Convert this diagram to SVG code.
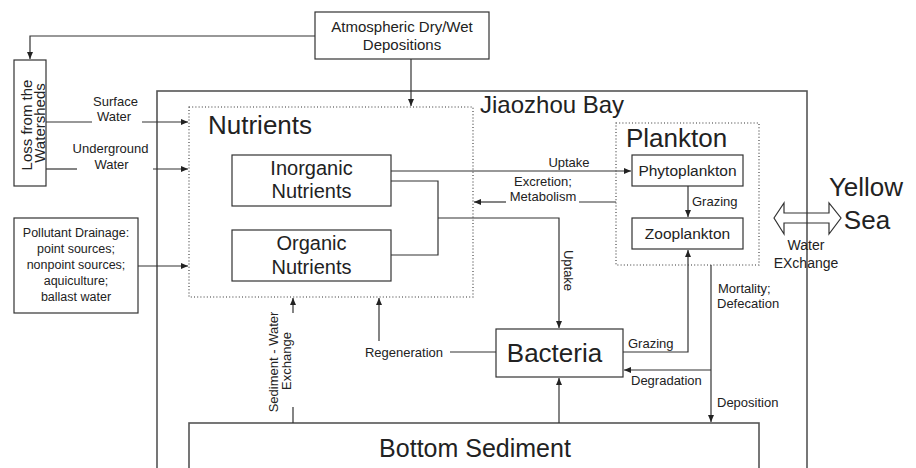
<svg xmlns="http://www.w3.org/2000/svg" width="916" height="468" viewBox="0 0 916 468">
<style>
text{font-family:"Liberation Sans",Arial,sans-serif;fill:#222}
.box{fill:#fff;stroke:#333;stroke-width:1.2}
.big{fill:none;stroke:#555;stroke-width:1.6}
.dot{fill:none;stroke:#333;stroke-width:1.1;stroke-dasharray:1 2.2}
.ln{fill:none;stroke:#333;stroke-width:1.2}
.arr{marker-end:url(#ah)}
.lbl{font-size:13px}
</style>
<defs>
<marker id="ah" markerUnits="userSpaceOnUse" markerWidth="8" markerHeight="7" refX="7" refY="3" orient="auto">
<path d="M0,0 L7,3 L0,6 z" fill="#222"/>
</marker>
</defs>
<rect width="916" height="468" fill="#fff"/>

<g id="jiaozhou-bay">
<rect class="big" x="157" y="91" width="650" height="390"/>
<text x="480" y="113" font-size="24">Jiaozhou Bay</text>
</g>

<g id="atmospheric">
<rect class="box" x="315" y="12" width="174" height="47"/>
<text x="402" y="32" font-size="15" text-anchor="middle">Atmospheric Dry/Wet</text>
<text x="402" y="50" font-size="15" text-anchor="middle">Depositions</text>
</g>

<g id="loss-watersheds">
<rect class="box" x="14" y="60" width="32" height="126"/>
<text transform="translate(31.5,125) rotate(-90)" font-size="15" text-anchor="middle">Loss from the</text>
<text transform="translate(44.5,123) rotate(-90)" font-size="15" text-anchor="middle">Watersheds</text>
</g>

<g id="pollutant">
<rect class="box" x="14" y="218" width="124" height="95"/>
<text x="76" y="237" font-size="12.5" text-anchor="middle">Pollutant Drainage:</text>
<text x="76" y="253" font-size="12.5" text-anchor="middle">point sources;</text>
<text x="76" y="269" font-size="12.5" text-anchor="middle">nonpoint sources;</text>
<text x="76" y="285" font-size="12.5" text-anchor="middle">aquiculture;</text>
<text x="76" y="301" font-size="12.5" text-anchor="middle">ballast water</text>
</g>

<g id="nutrients">
<rect class="dot" x="189" y="107" width="284" height="190"/>
<text x="208" y="134" font-size="26">Nutrients</text>
</g>

<g id="inorganic">
<rect class="box" x="232" y="155" width="159" height="51"/>
<text x="311.5" y="174.5" font-size="20" text-anchor="middle">Inorganic</text>
<text x="311.5" y="198" font-size="20" text-anchor="middle">Nutrients</text>
</g>

<g id="organic">
<rect class="box" x="232" y="230" width="159" height="51"/>
<text x="311.5" y="250" font-size="20" text-anchor="middle">Organic</text>
<text x="311.5" y="273.5" font-size="20" text-anchor="middle">Nutrients</text>
</g>

<g id="plankton">
<rect class="dot" x="616" y="123" width="143" height="142"/>
<text x="626" y="147" font-size="26">Plankton</text>
</g>

<g id="phytoplankton">
<rect class="box" x="632" y="155" width="111" height="31"/>
<text x="687.5" y="176" font-size="15.5" text-anchor="middle">Phytoplankton</text>
</g>

<g id="zooplankton">
<rect class="box" x="632" y="218" width="111" height="31"/>
<text x="687.5" y="239" font-size="15.5" text-anchor="middle">Zooplankton</text>
</g>

<g id="bacteria">
<rect class="box" x="496" y="329" width="127" height="48"/>
<text x="554.5" y="362" font-size="26" text-anchor="middle">Bacteria</text>
</g>

<g id="bottom-sediment">
<rect class="big" x="189" y="423" width="570" height="60"/>
<text x="475" y="457" font-size="25" text-anchor="middle">Bottom Sediment</text>
</g>

<g id="yellow-sea">
<text x="866" y="196" font-size="26" text-anchor="middle">Yellow</text>
<text x="867" y="229" font-size="26" text-anchor="middle">Sea</text>
</g>

<g id="connectors">
<path class="ln arr" d="M315,36 H30 V59"/>
<path class="ln arr" d="M411,59 V106"/>
<path class="ln" d="M46,122 H92"/>
<path class="ln arr" d="M142,122 H188"/>
<path class="ln" d="M46,169 H77"/>
<path class="ln arr" d="M153,169 H188"/>
<path class="ln arr" d="M138,266 H188"/>
<path class="ln arr" d="M391,171 H631"/>
<path class="ln" d="M391,181 H438 V255 H391"/>
<path class="ln arr" d="M438,218 H559 V328"/>
<path class="ln" d="M616,202 H579"/>
<path class="ln arr" d="M506,202 H474"/>
<path class="ln arr" d="M688,186 V217"/>
<path class="ln arr" d="M623,352 H688 V250"/>
<path class="ln arr" d="M711,265 V422"/>
<path class="ln arr" d="M711,370 H624"/>
<path class="ln arr" d="M559,423 V378"/>
<path class="ln" d="M496,352 H450"/>
<path class="ln arr" d="M379,341 V298"/>
<path class="ln" d="M293,423 V407"/>
<path class="ln arr" d="M293,313 V298"/>
<path class="ln" d="M774,218 L784,203 V213 H829 V203 L841,218 L829,234 V223 H784 V234 Z"/>

<text class="lbl" x="115.5" y="106" text-anchor="middle">Surface</text>
<text class="lbl" x="114" y="121" text-anchor="middle">Water</text>
<text class="lbl" x="110.5" y="153" text-anchor="middle">Underground</text>
<text class="lbl" x="111.5" y="169" text-anchor="middle">Water</text>
<text class="lbl" x="569" y="167" text-anchor="middle">Uptake</text>
<text class="lbl" x="543" y="186" text-anchor="middle">Excretion;</text>
<text class="lbl" x="543" y="201" text-anchor="middle">Metabolism</text>
<text class="lbl" x="692" y="205.5">Grazing</text>
<text class="lbl" transform="translate(564,270.5) rotate(90)" text-anchor="middle">Uptake</text>
<text class="lbl" x="718" y="293">Mortality;</text>
<text class="lbl" x="717" y="308">Defecation</text>
<text class="lbl" x="628" y="348">Grazing</text>
<text class="lbl" x="631" y="385">Degradation</text>
<text class="lbl" x="717" y="407">Deposition</text>
<text class="lbl" x="404" y="356.5" text-anchor="middle">Regeneration</text>
<text class="lbl" transform="translate(277.5,362) rotate(-90)" text-anchor="middle">Sediment - Water</text>
<text class="lbl" transform="translate(290.5,361) rotate(-90)" text-anchor="middle">Exchange</text>
<text x="806" y="250" font-size="14" text-anchor="middle">Water</text>
<text x="806" y="268" font-size="14" text-anchor="middle">EXchange</text>
</g>
</svg>
